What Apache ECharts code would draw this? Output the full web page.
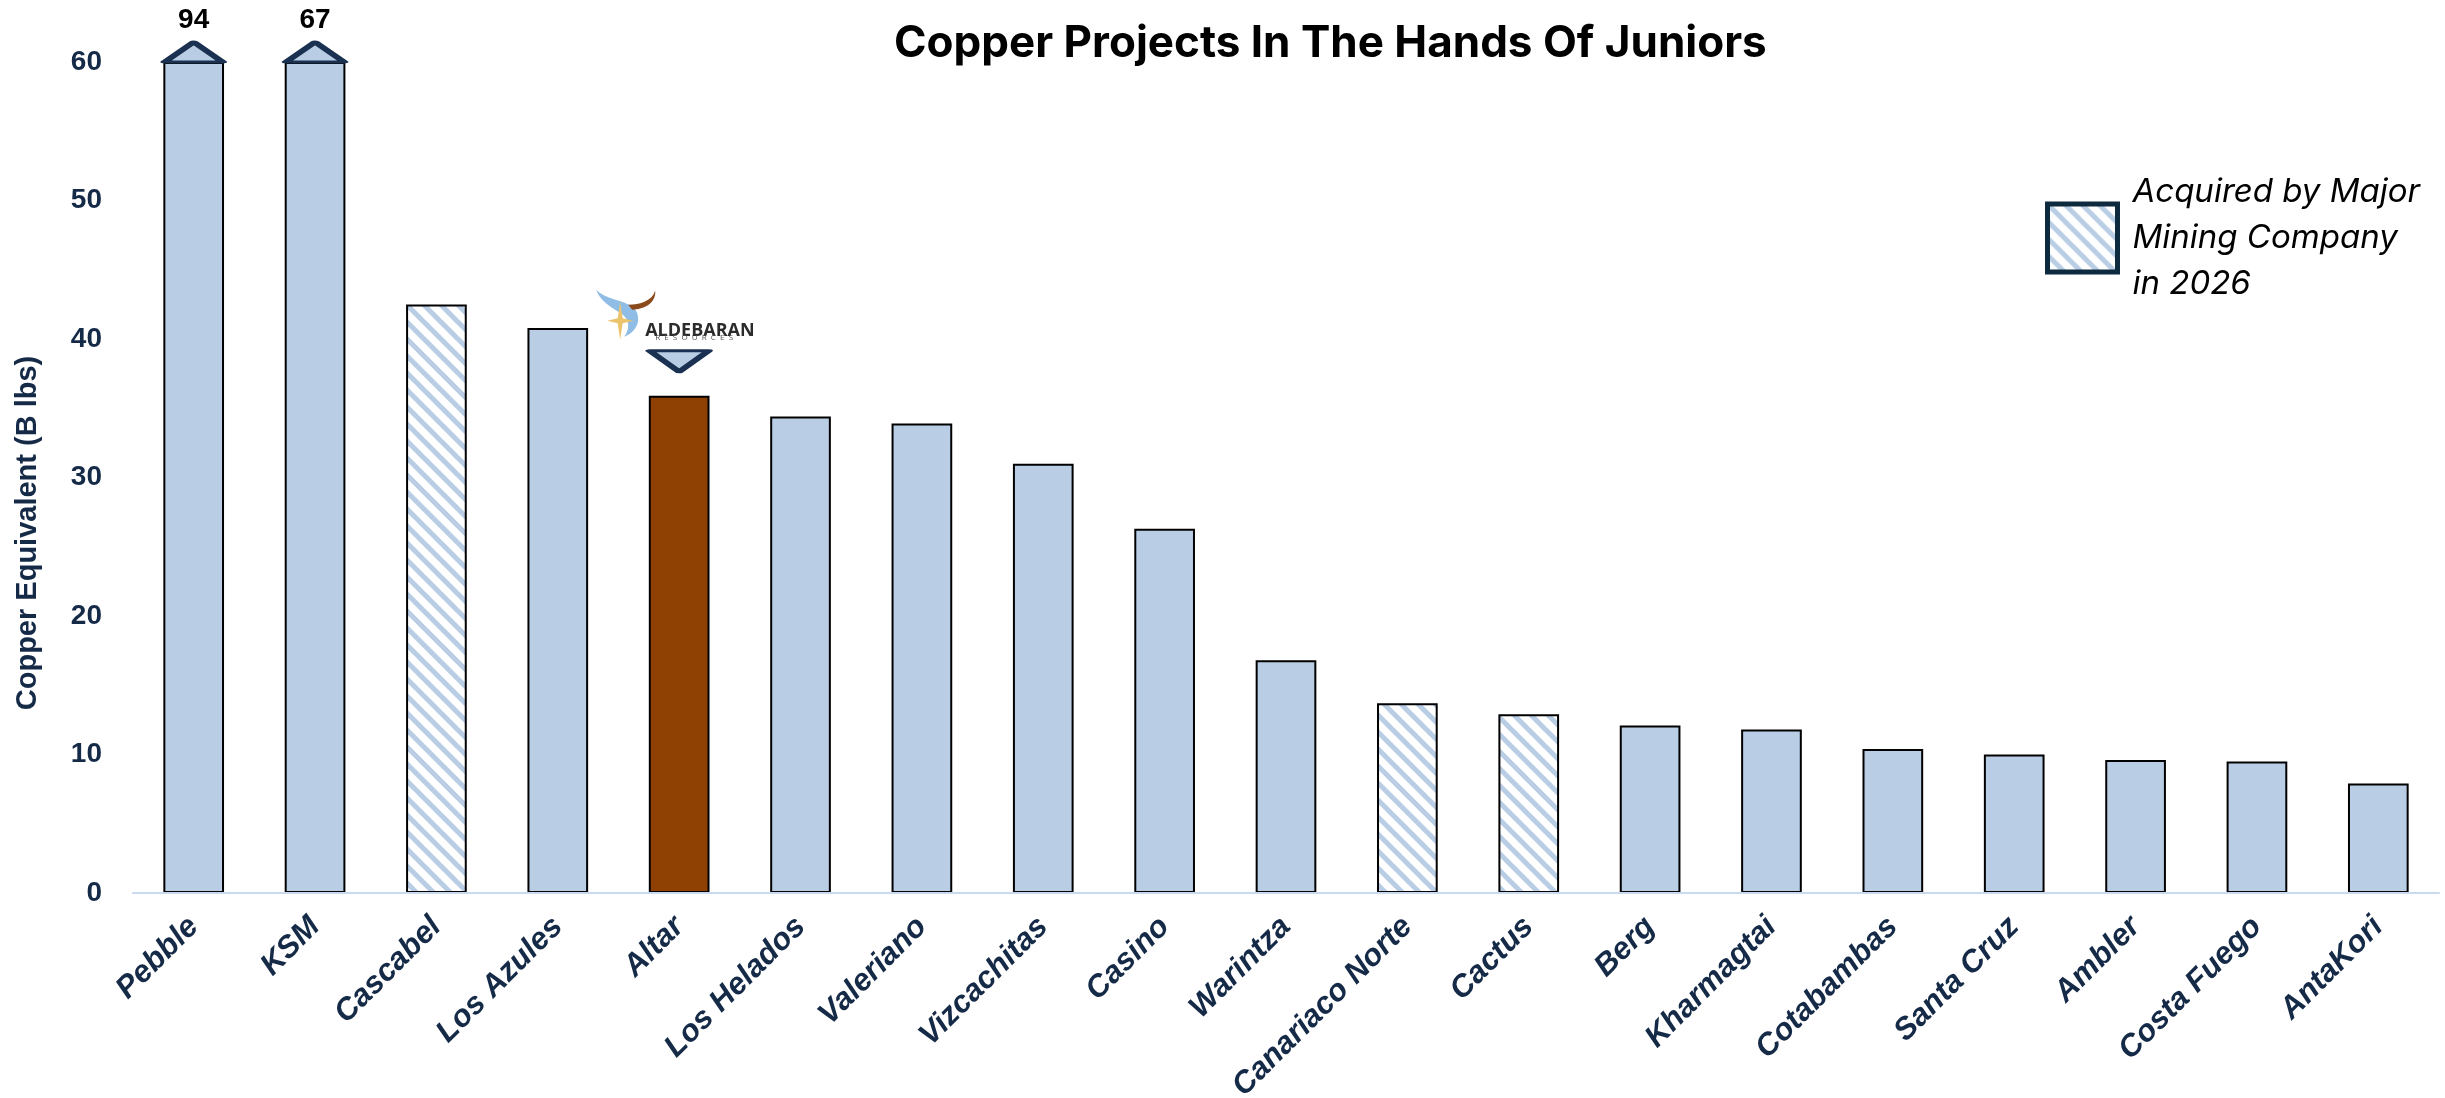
<!DOCTYPE html>
<html>
<head>
<meta charset="utf-8">
<script src="https://cdn.jsdelivr.net/npm/echarts@6/dist/echarts.min.js"></script>
<style>
html,body{margin:0;padding:0;background:#fff;}
#c{width:2445px;height:1098px;}
</style>
</head>
<body>
<div id="c"></div>
<script>
// ---- data ----
const categories = ['Pebble','KSM','Cascabel','Los Azules','Altar','Los Helados','Valeriano','Vizcachitas','Casino','Warintza','Canariaco Norte','Cactus','Berg','Kharmagtai','Cotabambas','Santa Cruz','Ambler','Costa Fuego','AntaKori'];
const values = [94, 67, 42.5, 40.8, 35.9, 34.4, 33.9, 31.0, 26.3, 16.8, 13.7, 12.9, 12.1, 11.8, 10.4, 10.0, 9.6, 9.5, 7.9];
const acquired = ['Cascabel','Canariaco Norte','Cactus'];
const featured = 'Altar';
const yMin = 0, yMax = 60, yInterval = 10;
const titleText = 'Copper Projects In The Hands Of Juniors';
const yName = 'Copper Equivalent (B lbs)';
const acquiredName = 'Acquired by Major Mining Company in 2026';
const acquiredLegendText = 'Acquired by Major\nMining Company\nin 2026';

// ---- styles ----
const BLUE = '#b9cde5';
const BROWN = '#8f4103';
const NAVY = '#152a47';
const TRI = '#1b3152';

function makeHatch(){
  const s = 17;
  const cv = document.createElement('canvas');
  cv.width = s; cv.height = s;
  const g = cv.getContext('2d');
  g.fillStyle = '#ffffff'; g.fillRect(0,0,s,s);
  g.strokeStyle = BLUE; g.lineWidth = 5;
  for (const k of [-s, 0, s]) {
    g.beginPath(); g.moveTo(k - 2, -2); g.lineTo(k + s + 2, s + 2); g.stroke();
  }
  return cv;
}
const hatch = { image: makeHatch(), repeat: 'repeat' };

const chart = echarts.init(document.getElementById('c'), null, {renderer: 'canvas'});

const mainData = categories.map((c, i) => {
  if (acquired.includes(c)) return '-';
  const d = { value: Math.min(values[i], yMax) };
  if (c === featured) d.itemStyle = { color: BROWN };
  return d;
});
const acqData = categories.map((c, i) => acquired.includes(c) ? Math.min(values[i], yMax) : '-');
const capIdx = values.map((v, i) => v > yMax ? i : -1).filter(i => i >= 0);
const capData = capIdx.map(i => [categories[i], yMax]);
const featIdx = categories.indexOf(featured);

function renderLogo(params, api) {
  const pt = api.coord([api.value(0), api.value(1)]);
  return {
    type: 'group', x: pt[0], y: pt[1],
    children: [
      { type: 'path', shape: { pathData: 'M-83,-106 C-69,-92 -39,-97 -41,-75 C-42,-67 -49,-61 -55,-59 C-49,-67 -49,-77 -59,-83 C-69,-89 -79,-95 -83,-106 Z' }, style: { fill: '#8fbde6' } },
      { type: 'path', shape: { pathData: 'M-51,-91 C-39,-91 -27,-95 -24,-105 C-23,-97 -29,-87 -47,-86 Z' }, style: { fill: '#8b4a1c' } },
      { type: 'path', shape: { pathData: 'M-59,-94 L-56.5,-77.5 L-46,-75 L-56.5,-72.5 L-59,-56 L-61.5,-72.5 L-72,-75 L-61.5,-77.5 Z' }, style: { fill: '#ecc46e' } },
      { type: 'text', x: -34, y: -74, style: { text: 'ALDEBARAN', fill: '#2b2b2b', font: 'bold 18px "Open Sans"', textVerticalAlign: 'alphabetic' } },
      { type: 'text', x: -24, y: -62, style: { text: 'R  E  S  O  U  R  C  E  S', fill: '#555555', font: '8px "Open Sans"', textVerticalAlign: 'alphabetic' } }
    ]
  };
}

const option = {
  animation: false,
  backgroundColor: '#ffffff',
  title: {
    text: titleText,
    left: 889, top: 17,
    textStyle: { fontFamily: 'Inter', fontWeight: 'bold', fontSize: 44, color: '#000' }
  },
  grid: { left: 133, right: 6, top: 62, bottom: 205, outerBoundsMode: 'none', containLabel: false },
  legend: {
    left: 2040, top: 164,
    orient: 'vertical',
    itemWidth: 70, itemHeight: 68,
    selectedMode: false,
    data: [{ name: acquiredName, icon: 'rect', itemStyle: { color: hatch, borderColor: '#0e2a3f', borderWidth: 5 } }],
    formatter: () => acquiredLegendText,
    textStyle: { fontFamily: 'Inter', fontStyle: 'italic', fontSize: 33, lineHeight: 46, color: '#000', padding: [0,0,0,10] }
  },
  xAxis: {
    type: 'category',
    data: categories,
    z: 10,
    axisLine: { show: true, lineStyle: { color: '#c9daf0', width: 2 } },
    axisTick: { show: false },
    axisLabel: {
      interval: 0, rotate: 45, margin: 29,
      fontFamily: 'Liberation Sans, Arial', fontWeight: 'bold', fontStyle: 'italic',
      fontSize: 31, color: NAVY
    }
  },
  yAxis: {
    type: 'value', min: yMin, max: yMax, interval: yInterval,
    axisLine: { show: false }, axisTick: { show: false }, splitLine: { show: false },
    axisLabel: { margin: 31, fontFamily: 'Liberation Sans, Arial', fontWeight: 'bold', fontSize: 28, color: NAVY }
  },
  graphic: [
    {
      type: 'text', id: 'yname',
      x: 28, y: 533, rotation: Math.PI / 2,
      style: { text: yName, fill: NAVY, font: 'bold 29px "Liberation Sans", Arial', textAlign: 'center', textVerticalAlign: 'middle' }
    }
  ],
  series: [
    {
      name: 'Projects', type: 'bar', data: mainData, barWidth: '50%',
      itemStyle: { color: BLUE, borderColor: '#000', borderWidth: 2 }
    },
    {
      name: acquiredName, type: 'bar', data: acqData, barWidth: '50%', barGap: '-100%',
      itemStyle: { color: hatch, borderColor: '#000', borderWidth: 2 }
    },
    {
      name: 'cap', type: 'scatter', data: capData, z: 5, clip: false,
      symbol: 'triangle', symbolSize: [58, 20], symbolOffset: [0, -10],
      itemStyle: { color: BLUE, borderColor: TRI, borderWidth: 5, borderJoin: 'round', opacity: 1 },
      label: {
        show: true, position: 'top', distance: 6,
        fontFamily: 'Liberation Sans, Arial', fontWeight: 'bold', fontSize: 28, color: '#000',
        formatter: p => String(values[capIdx[p.dataIndex]])
      }
    },
    {
      name: 'featuredMarker', type: 'scatter', z: 5, clip: false,
      data: [[featured, values[featIdx]]],
      symbol: 'path://M0,0L20,0L10,7Z', symbolSize: [59, 21], symbolOffset: [0, -34.5],
      itemStyle: { color: BLUE, borderColor: TRI, borderWidth: 5, borderJoin: 'round', opacity: 1 }
    },
    {
      name: 'logo', type: 'custom', z: 20, clip: false,
      data: [[featIdx, values[featIdx]]],
      renderItem: renderLogo
    }
  ]
};
chart.setOption(option);
</script>
</body>
</html>
